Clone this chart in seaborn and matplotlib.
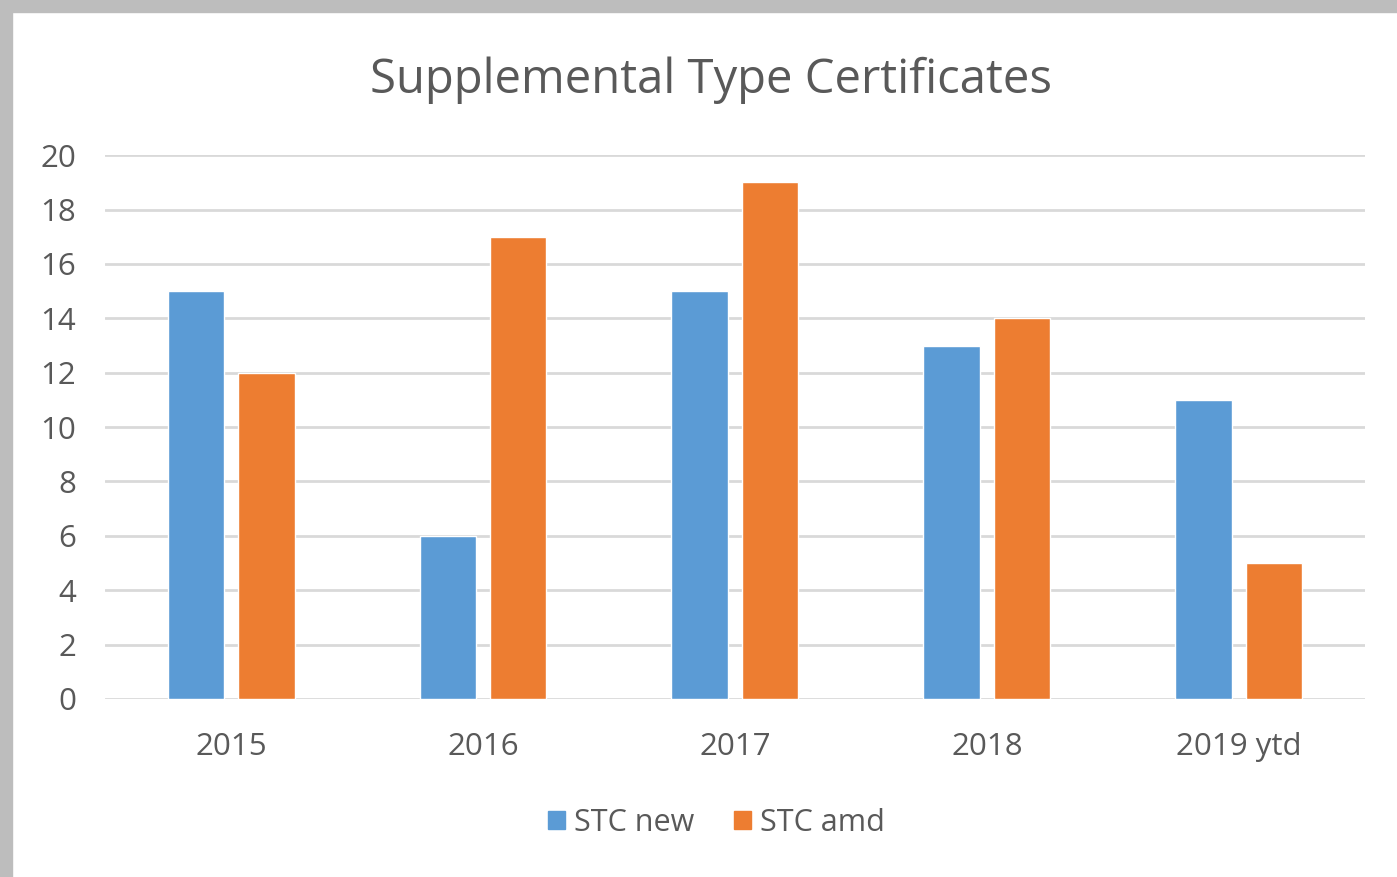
import matplotlib
matplotlib.use("Agg")
import matplotlib.pyplot as plt
import matplotlib.patches as mpatches
import seaborn as sns
import pandas as pd

# data
years = ["2015", "2016", "2017", "2018", "2019 ytd"]
stc_new = [15, 6, 15, 13, 11]
stc_amd = [12, 17, 19, 14, 5]
series_names = ["STC new", "STC amd"]

df = pd.DataFrame({
    "year": years * 2,
    "count": stc_new + stc_amd,
    "series": [series_names[0]] * len(years) + [series_names[1]] * len(years),
})

sns.set_theme(style="white")
plt.rcParams["font.family"] = ["Open Sans", "DejaVu Sans"]
text_color = "#595959"

fig = plt.figure(figsize=(13.97, 8.77), dpi=100)
ax = fig.add_axes([0.0752, 0.203, 0.9018, 0.620])

sns.barplot(data=df, x="year", y="count", hue="series",
            palette=["#5B9BD5", "#ED7D31"], width=0.56, gap=0.2,
            saturation=1, ax=ax, zorder=3)

ax.set_ylim(0, 20)
ax.set_xlim(-0.5, 4.5)
ax.set_yticks(range(0, 21, 2))
ax.yaxis.grid(True, color="#D9D9D9", linewidth=2, zorder=0)
ax.set_axisbelow(True)
for s in ax.spines.values():
    s.set_visible(False)
ax.tick_params(axis="both", length=0, labelsize=22.5, labelcolor=text_color)
ax.tick_params(axis="x", pad=24)
ax.tick_params(axis="y", pad=21)
ax.set_xlabel("")
ax.set_ylabel("")

fig.text(0.509, 0.908, "Supplemental Type Certificates", ha="center",
         va="center", fontsize=34, color=text_color)

ax.legend_.remove()
handles = [mpatches.Patch(color=c) for c in ["#5B9BD5", "#ED7D31"]]
fig.legend(handles, series_names, loc="center", bbox_to_anchor=(0.513, 0.062),
           ncol=2, frameon=False, fontsize=22, handlelength=0.55,
           handleheight=0.55, handletextpad=0.3, columnspacing=1.3,
           labelcolor=text_color)

# shadow border on the left and top edges
fig.patches.append(mpatches.Rectangle((0, 0), 12 / 1397, 1, transform=fig.transFigure,
                                      color="#BDBDBD", zorder=0))
fig.patches.append(mpatches.Rectangle((0, 1 - 12 / 877), 1, 12 / 877,
                                      transform=fig.transFigure,
                                      color="#BDBDBD", zorder=0))

fig.savefig("out.png", dpi=100)
